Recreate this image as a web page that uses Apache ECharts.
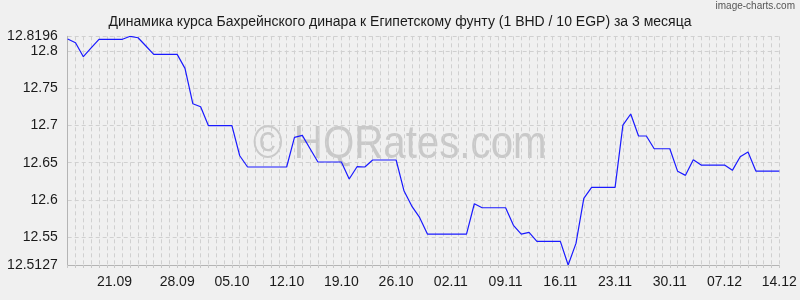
<!DOCTYPE html>
<html>
<head>
<meta charset="utf-8">
<script src="https://cdn.jsdelivr.net/npm/echarts@6/dist/echarts.min.js"></script>
<style>
html,body{margin:0;padding:0;background:#f0f0f0;}
#c{width:800px;height:300px;}
</style>
</head>
<body>
<div id="c"></div>
<script>
const dates = [
 "14.09","15.09","16.09","17.09","18.09","19.09","20.09","21.09","22.09","23.09",
 "24.09","25.09","26.09","27.09","28.09","29.09","30.09","01.10","02.10","03.10",
 "04.10","05.10","06.10","07.10","08.10","09.10","10.10","11.10","12.10","13.10",
 "14.10","15.10","16.10","17.10","18.10","19.10","20.10","21.10","22.10","23.10",
 "24.10","25.10","26.10","27.10","28.10","29.10","30.10","31.10","01.11","02.11",
 "03.11","04.11","05.11","06.11","07.11","08.11","09.11","10.11","11.11","12.11",
 "13.11","14.11","15.11","16.11","17.11","18.11","19.11","20.11","21.11","22.11",
 "23.11","24.11","25.11","26.11","27.11","28.11","29.11","30.11","01.12","02.12",
 "03.12","04.12","05.12","06.12","07.12","08.12","09.12","10.12","11.12","12.12",
 "13.12","14.12"
];
const rates = [
 12.8160,12.8110,12.7922,12.8040,12.8156,12.8156,12.8156,12.8156,12.8196,12.8177,
 12.8066,12.7954,12.7954,12.7954,12.7954,12.7766,12.7291,12.7251,12.6996,12.6996,
 12.6996,12.6996,12.6593,12.6442,12.6442,12.6442,12.6442,12.6442,12.6442,12.6840,
 12.6867,12.6687,12.6509,12.6509,12.6509,12.6509,12.6281,12.6446,12.6442,12.6536,
 12.6536,12.6536,12.6536,12.6124,12.5918,12.5766,12.5542,12.5542,12.5542,12.5542,
 12.5542,12.5542,12.5949,12.5895,12.5895,12.5895,12.5895,12.5659,12.5542,12.5565,
 12.5444,12.5444,12.5444,12.5444,12.5127,12.5417,12.6022,12.6169,12.6169,12.6169,
 12.6169,12.7005,12.7153,12.6858,12.6858,12.6687,12.6687,12.6687,12.6384,12.6330,
 12.6540,12.6468,12.6468,12.6468,12.6468,12.6397,12.6580,12.6643,12.6388,12.6388,
 12.6388,12.6388
];
const yTicks = [12.5127, 12.55, 12.6, 12.65, 12.7, 12.75, 12.8, 12.8196];
const xLabelDates = ["21.09","28.09","05.10","12.10","19.10","26.10","02.11","09.11","16.11","23.11","30.11","07.12","14.12"];
const titleText = "Динамика курса Бахрейнского динара к Египетскому фунту (1 BHD / 10 EGP) за 3 месяца";

const chart = echarts.init(document.getElementById('c'), null, {renderer:'canvas'});
const font = '"Liberation Sans", Arial, sans-serif';
chart.setOption({
  backgroundColor: '#f0f0f0',
  animation: false,
  title: {
    text: titleText, left: 'center', top: 10,
    textStyle: {fontFamily: font, fontSize: 14, fontWeight: 'normal', color: '#1a1a1a'}
  },
  graphic: [
    {type:'text', right: 5, top: 1, style:{text:'image-charts.com', fontFamily: font, fontSize: 10, fill:'#555'}},
    {type:'text', x: 253, y: 145, scaleX: 0.875, z: 0, silent: true,
     style:{text:'© HQRates.com', fontFamily: font, fontSize: 46, fill:'#c9c9c9', verticalAlign: 'middle'}}
  ],
  grid: {left: 67.7, right: 20.7, top: 36.3, bottom: 35, containLabel: false},
  xAxis: {
    type: 'category', data: dates, boundaryGap: false,
    axisLine: {lineStyle: {color: '#b4b4b4', width: 1}},
    axisTick: {show: true, interval: 0, length: 6, lineStyle: {color: '#c8c8c8', type: [3,3]}},
    splitLine: {show: true, interval: 0, lineStyle: {color: '#d0d0d0', type: [4,3], width: 1}},
    axisLabel: {
      interval: (i, v) => xLabelDates.indexOf(v) >= 0,
      margin: 10, color: '#1a1a1a', fontFamily: font, fontSize: 14,
      formatter: v => v === '21.09' ? '{s|' + v + '}' : v,
      rich: {s: {padding: [0, 16, 0, 0], fontFamily: font, fontSize: 14, color: '#1a1a1a'}}
    }
  },
  yAxis: {
    type: 'value', min: yTicks[0], max: yTicks[yTicks.length - 1],
    axisLine: {show: true, lineStyle: {color: '#b4b4b4', width: 1}},
    axisTick: {show: false, customValues: yTicks},
    splitLine: {show: true, lineStyle: {color: '#d0d0d0', type: [4,3], width: 1}},
    axisLabel: {customValues: yTicks, margin: 10, color: '#1a1a1a', fontFamily: font, fontSize: 14,
      formatter: v => String(+v.toFixed(4))}
  },
  series: [{
    type: 'line', data: rates, symbol: 'none', z: 5,
    lineStyle: {color: '#1a1aff', width: 1.2}
  }]
});
</script>
</body>
</html>
